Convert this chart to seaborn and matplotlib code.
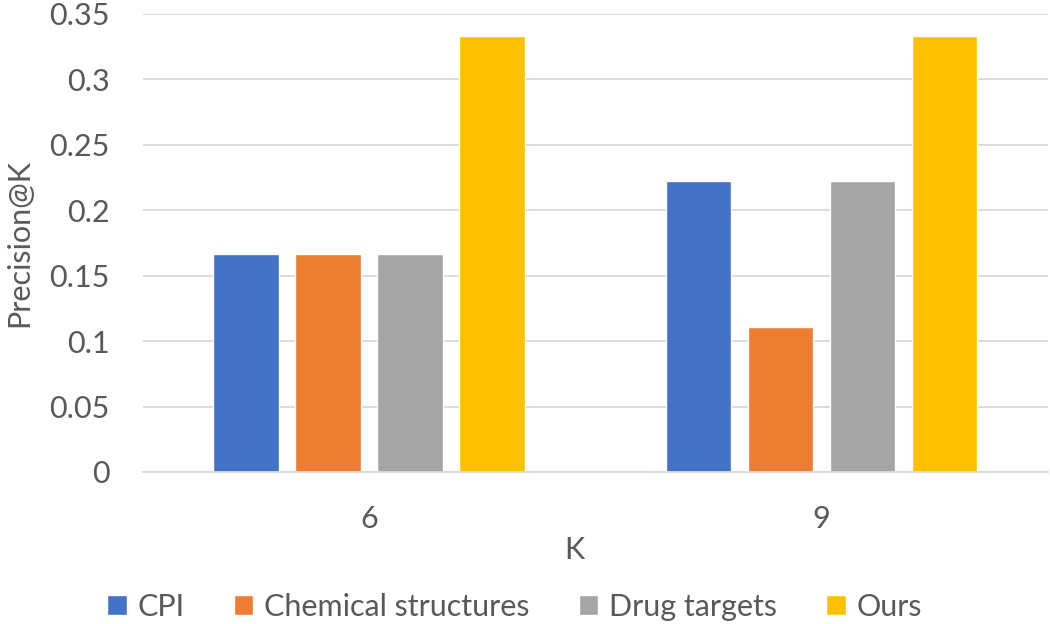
import numpy as np
import pandas as pd
import seaborn as sns
from matplotlib import pyplot as plt
from matplotlib.ticker import FuncFormatter

# data
k_values = ["6", "9"]
methods = ["CPI", "Chemical structures", "Drug targets", "Ours"]
cpi = [1/6, 2/9]
chem = [1/6, 1/9]
drug = [1/6, 2/9]
ours = [1/3, 1/3]
colors = ["#4472C4", "#ED7D31", "#A5A5A5", "#FFC000"]

rows = []
for name, vals in zip(methods, [cpi, chem, drug, ours]):
    for k, v in zip(k_values, vals):
        rows.append({"K": k, "Method": name, "Precision@K": v})
df = pd.DataFrame(rows)

sns.set_style("white")
plt.rcParams['font.family'] = ['Lato', 'DejaVu Sans']
text_col = "#595959"
fs = 22

fig = plt.figure(figsize=(10.5, 6.24), dpi=100)
ax = fig.add_axes([0.136, 0.2436, 0.862, 0.734])

sns.barplot(data=df, x="K", y="Precision@K", hue="Method", hue_order=methods,
            palette=colors, width=0.725, gap=0.2, saturation=1, ax=ax, legend=True)

ax.set_xlim(-0.5, 1.5)
ax.set_ylim(0, 0.35)
ax.set_yticks(np.arange(0, 0.351, 0.05))
ax.yaxis.set_major_formatter(FuncFormatter(lambda v, p: f"{v:g}"))
ax.yaxis.grid(True, color="#D9D9D9", linewidth=1.3)
ax.set_axisbelow(True)
for s in ["top", "right", "left"]:
    ax.spines[s].set_visible(False)
ax.spines["bottom"].set_color("#D9D9D9")
ax.spines["bottom"].set_linewidth(1.3)
ax.tick_params(axis="both", length=0, labelsize=fs, colors=text_col)
ax.tick_params(axis="y", pad=24)
ax.tick_params(axis="x", pad=24)

# axis titles placed in pixel terms (axes spans x 143..1048, y 14..472)
ax.set_xlabel("K", fontsize=fs, color=text_col)
ax.xaxis.set_label_coords((575 - 143) / 905, (472 - 536) / 458)
ax.set_ylabel("Precision@K", fontsize=fs, color=text_col)
ax.yaxis.set_label_coords((33 - 143) / 905, 0.5)

ax.legend(loc="center", bbox_to_anchor=(0.49, 1 - 607 / 624), bbox_transform=fig.transFigure,
          ncol=4, frameon=False, fontsize=fs, labelcolor=text_col,
          handlelength=0.65, handleheight=0.65, handletextpad=0.35, columnspacing=1.6)

fig.savefig("out.png", dpi=100)
